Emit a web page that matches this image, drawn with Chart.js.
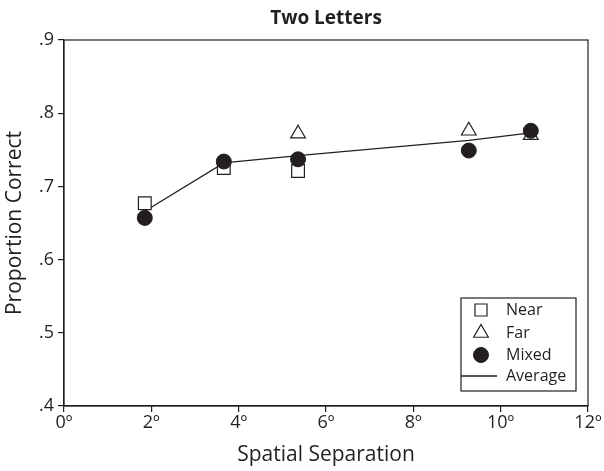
<!DOCTYPE html>
<html>
<head>
<meta charset="utf-8">
<script src="https://cdn.jsdelivr.net/npm/chart.js@4"></script>
<style>
  html, body { margin: 0; padding: 0; background: #fff; }
  #wrap { width: 604px; height: 471px; }
</style>
</head>
<body>
<div id="wrap"><canvas id="chart" width="604" height="471"></canvas></div>
<script>
// spatial separation (degrees) for each condition
const separation = [1.85, 3.66, 5.36, 9.27, 10.69];

// proportion correct (null = hidden under another marker)
const nearValues = [0.677, 0.725, 0.721, null, null];
const farValues = [null, null, 0.772, 0.776, 0.770];
const mixedValues = [0.657, 0.734, 0.737, 0.749, 0.776];
const averageValues = [0.666, 0.732, 0.742, 0.763, 0.773];

const xTickLabels = ['0º', '2º', '4º', '6º', '8º', '10º', '12º'];
const yTickLabels = ['.4', '.5', '.6', '.7', '.8', '.9'];

const ink = '#231f20';
const fontFamily = '"Open Sans", "Liberation Sans", sans-serif';

function toPoints(values) {
    return values.map((v, i) => ({ x: separation[i], y: v }));
}

// full frame around the plot
const framePlugin = {
    id: 'frame',
    afterDatasetsDraw(chart) {
        const { ctx, chartArea } = chart;
        ctx.save();
        ctx.strokeStyle = ink;
        ctx.lineWidth = 1.2;
        ctx.strokeRect(chartArea.left, chartArea.top, chartArea.right - chartArea.left, chartArea.bottom - chartArea.top);
        ctx.restore();
    }
};

// boxed legend in the lower right corner of the plot
const boxLegendPlugin = {
    id: 'boxLegend',
    afterDraw(chart) {
        const { ctx, chartArea } = chart;
        const boxW = 115, boxH = 93;
        const right = chartArea.right - 12;
        const bottom = chartArea.bottom - 15;
        const left = right - boxW, top = bottom - boxH;
        const rowY = [12, 35, 57, 78];

        ctx.save();
        ctx.fillStyle = '#fff';
        ctx.fillRect(left, top, boxW, boxH);
        ctx.strokeStyle = ink;
        ctx.lineWidth = 1.2;
        ctx.strokeRect(left, top, boxW, boxH);

        ctx.font = '16px ' + fontFamily;
        ctx.textBaseline = 'middle';
        ctx.textAlign = 'left';

        chart.data.datasets.forEach((ds, i) => {
            const y = top + rowY[i];
            if (ds.showLine === false) {
                ctx.fillStyle = ds.pointBackgroundColor;
                ctx.strokeStyle = ink;
                ctx.lineWidth = ds.borderWidth;
                Chart.helpers.drawPoint(ctx, {
                    pointStyle: ds.pointStyle,
                    radius: ds.legendRadius,
                    borderWidth: ds.borderWidth
                }, left + 20, y);
            } else {
                ctx.strokeStyle = ink;
                ctx.lineWidth = ds.borderWidth;
                ctx.beginPath();
                ctx.moveTo(left, y);
                ctx.lineTo(left + 36, y);
                ctx.stroke();
            }
            ctx.fillStyle = ink;
            ctx.fillText(ds.label, left + 45, y);
        });
        ctx.restore();
    }
};

const config = {
    type: 'scatter',
    data: {
        datasets: [
            {
                label: 'Near',
                data: toPoints(nearValues),
                showLine: false,
                pointStyle: 'rect',
                pointRadius: 9,
                legendRadius: 8.5,
                pointBackgroundColor: '#fff',
                pointBorderColor: ink,
                borderColor: ink,
                borderWidth: 1.2,
                order: 2
            },
            {
                label: 'Far',
                data: toPoints(farValues),
                showLine: false,
                pointStyle: 'triangle',
                pointRadius: 8.5,
                legendRadius: 8.5,
                pointBackgroundColor: '#fff',
                pointBorderColor: ink,
                borderColor: ink,
                borderWidth: 1.2,
                order: 1
            },
            {
                label: 'Mixed',
                data: toPoints(mixedValues),
                showLine: false,
                pointStyle: 'circle',
                pointRadius: 7.5,
                legendRadius: 7.5,
                pointBackgroundColor: ink,
                pointBorderColor: ink,
                borderColor: ink,
                borderWidth: 1,
                order: 0
            },
            {
                label: 'Average',
                data: toPoints(averageValues),
                showLine: true,
                pointRadius: 0,
                borderColor: ink,
                borderWidth: 1.3,
                fill: false,
                order: 3
            }
        ]
    },
    options: {
        responsive: false,
        animation: false,
        layout: {
            autoPadding: false,
            padding: { left: 0, right: 16, top: 0, bottom: 0 }
        },
        plugins: {
            legend: { display: false },
            tooltip: { enabled: false },
            title: {
                display: true,
                fullSize: false,
                text: 'Two Letters',
                color: ink,
                font: { family: fontFamily, size: 19, weight: 'bold', lineHeight: 1.2 },
                padding: { top: 7, bottom: 10.2 }
            }
        },
        scales: {
            x: {
                type: 'linear',
                min: 0,
                max: 12,
                afterBuildTicks(scale) {
                    scale.ticks = xTickLabels.map((t, i) => ({ value: i * 2 }));
                },
                afterFit(scale) { scale.height = 65; },
                grid: { display: true, drawOnChartArea: false, drawTicks: true, tickLength: 6, color: ink, lineWidth: 1.2 },
                border: { display: true, color: ink, width: 1.2 },
                ticks: {
                    color: ink,
                    padding: 0,
                    maxRotation: 0,
                    font: { family: fontFamily, size: 18 },
                    callback: (v, i) => xTickLabels[i]
                },
                title: {
                    display: true,
                    text: 'Spatial Separation',
                    color: ink,
                    font: { family: fontFamily, size: 21 },
                    padding: { top: 4, bottom: 3 }
                }
            },
            y: {
                type: 'linear',
                min: 0.4,
                max: 0.9,
                afterBuildTicks(scale) {
                    scale.ticks = yTickLabels.map(t => ({ value: parseFloat(t) }));
                },
                afterFit(scale) { scale.width = 64; },
                grid: { display: true, drawOnChartArea: false, drawTicks: true, tickLength: 6, color: ink, lineWidth: 1.2 },
                border: { display: true, color: ink, width: 1.2 },
                ticks: {
                    color: ink,
                    padding: 4,
                    font: { family: fontFamily, size: 18 },
                    callback: (v, i) => yTickLabels[i]
                },
                title: {
                    display: true,
                    text: 'Proportion Correct',
                    color: ink,
                    font: { family: fontFamily, size: 21 },
                    padding: { top: 2, bottom: 0 }
                }
            }
        }
    },
    plugins: [framePlugin, boxLegendPlugin]
};

document.addEventListener('DOMContentLoaded', () => {
    new Chart(document.getElementById('chart'), config);
});
</script>
</body>
</html>
